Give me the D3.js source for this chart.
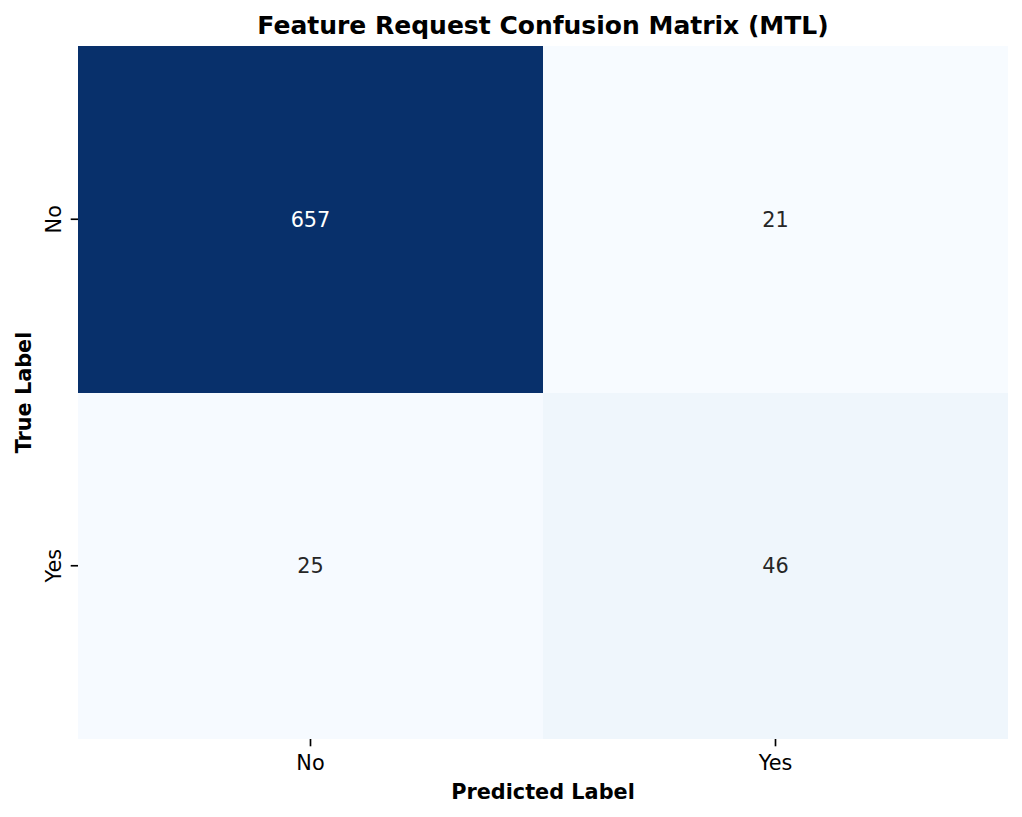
<!DOCTYPE html>
<html>
<head>
<meta charset="utf-8">
<script src="https://cdn.jsdelivr.net/npm/d3@7"></script>
<style>
  body { margin: 0; background: #fff; }
  svg { display: block; font-family: "DejaVu Sans", sans-serif; }
</style>
</head>
<body>
<div id="chart"></div>
<script>
// confusion matrix values, rows = true label, cols = predicted label
const labels = ['No', 'Yes'];
const rowNo = [657, 21];
const rowYes = [25, 46];
const matrix = [rowNo, rowYes];

const width = 1022;
const height = 817;
const margin = { top: 46, right: 14, bottom: 78, left: 78 };

const svg = d3.select('#chart').append('svg')
  .attr('width', width)
  .attr('height', height);

const cells = [];
matrix.forEach((row, i) => {
  row.forEach((v, j) => cells.push({ t: labels[i], p: labels[j], value: v }));
});

const xScale = d3.scaleBand()
  .domain(labels)
  .range([margin.left, width - margin.right]);

const yScale = d3.scaleBand()
  .domain(labels)
  .range([margin.top, height - margin.bottom]);

// matplotlib-style Blues: linear through the 9 brewer stops
const color = d3.scaleSequential(d3.piecewise(d3.interpolateRgb, d3.schemeBlues[9]))
  .domain(d3.extent(cells, (d) => d.value));

function textColor(c) {
  const rgb = d3.rgb(c);
  const lin = (v) => {
    v = v / 255;
    return v <= 0.03928 ? v / 12.92 : Math.pow((v + 0.055) / 1.055, 2.4);
  };
  const lum = 0.2126 * lin(rgb.r) + 0.7152 * lin(rgb.g) + 0.0722 * lin(rgb.b);
  return lum > 0.408 ? '#262626' : '#ffffff';
}

svg.append('g').selectAll('rect')
  .data(cells)
  .join('rect')
  .attr('x', (d) => xScale(d.p))
  .attr('y', (d) => yScale(d.t))
  .attr('width', xScale.bandwidth())
  .attr('height', yScale.bandwidth())
  .attr('fill', (d) => color(d.value))
  .attr('shape-rendering', 'crispEdges');

svg.append('g').selectAll('text')
  .data(cells)
  .join('text')
  .attr('x', (d) => xScale(d.p) + xScale.bandwidth() / 2)
  .attr('y', (d) => yScale(d.t) + yScale.bandwidth() / 2 + 7.5)
  .attr('text-anchor', 'middle')
  .style('font-size', '20.8px')
  .attr('fill', (d) => textColor(color(d.value)))
  .text((d) => d.value);

// axes
const xAxis = svg.append('g')
  .attr('transform', `translate(0, ${height - margin.bottom})`)
  .call(d3.axisBottom(xScale).tickSize(7.3).tickPadding(7.3));
xAxis.select('.domain').remove();
xAxis.selectAll('.tick line').attr('stroke', '#000').attr('stroke-width', 1.67);
xAxis.selectAll('.tick text')
  .attr('fill', '#000')
  .attr('dy', '0.8em')
  .style('font-size', '20.8px')
  .style('font-family', '"DejaVu Sans", sans-serif');

const yAxis = svg.append('g')
  .attr('transform', `translate(${margin.left}, 0)`)
  .call(d3.axisLeft(yScale).tickSize(7.3).tickPadding(7.3));
yAxis.select('.domain').remove();
yAxis.selectAll('.tick line').attr('stroke', '#000').attr('stroke-width', 1.67);
yAxis.selectAll('.tick text')
  .attr('fill', '#000')
  .attr('text-anchor', 'middle')
  .attr('x', 0)
  .attr('dy', 0)
  .attr('transform', 'translate(-17, 0) rotate(-90)')
  .style('font-size', '20.8px')
  .style('font-family', '"DejaVu Sans", sans-serif');

// title and axis labels
svg.append('text')
  .attr('x', (margin.left + width - margin.right) / 2)
  .attr('y', 34)
  .attr('text-anchor', 'middle')
  .style('font-size', '25px')
  .style('font-weight', 'bold')
  .text('Feature Request Confusion Matrix (MTL)');

svg.append('text')
  .attr('x', (margin.left + width - margin.right) / 2)
  .attr('y', 799)
  .attr('text-anchor', 'middle')
  .style('font-size', '20.8px')
  .style('font-weight', 'bold')
  .text('Predicted Label');

svg.append('text')
  .attr('transform', `translate(31, ${(margin.top + height - margin.bottom) / 2}) rotate(-90)`)
  .attr('text-anchor', 'middle')
  .style('font-size', '20.8px')
  .style('font-weight', 'bold')
  .text('True Label');
</script>
</body>
</html>
